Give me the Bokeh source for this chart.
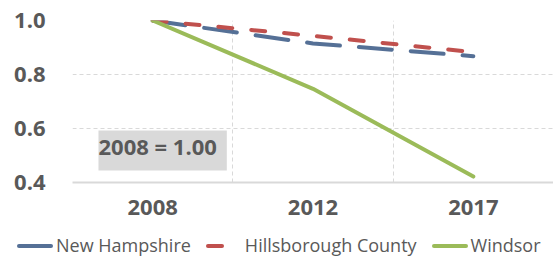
from bokeh.plotting import figure
from bokeh.layouts import column
from bokeh.models import Range1d, FixedTicker, Label, NumeralTickFormatter, Div
from bokeh.embed import file_html
from bokeh.resources import INLINE

years = ["2008", "2012", "2017"]
new_hampshire = [1.0, 0.915, 0.868]
hillsborough = [1.0, 0.943, 0.883]
windsor = [1.0, 0.747, 0.422]
y_ticks = [0.4, 0.6, 0.8, 1.0]
series_names = ["New Hampshire", "Hillsborough County", "Windsor"]

FONT = "Open Sans"
TXT = "#595959"
GRID = "#D9D9D9"
COLORS = ["#557096", "#C0504D", "#9BBB59"]
DASHES = ["33 19", "14 19", "solid"]

xs = [i + 0.5 for i in range(len(years))]
bounds = list(range(len(years) + 1))

p = figure(width=553, height=229, output_backend="svg", toolbar_location=None,
           x_range=Range1d(0, len(years)), y_range=Range1d(min(y_ticks), max(y_ticks)),
           min_border_left=72, min_border_right=0, min_border_top=20, min_border_bottom=47)
p.outline_line_color = None

for vals, c, d in zip([new_hampshire, hillsborough, windsor], COLORS, DASHES):
    p.line(xs, vals, line_color=c, line_width=4, line_dash=d, line_cap="round")

# axes
p.xaxis.ticker = FixedTicker(ticks=xs)
p.xaxis.major_label_overrides = {x: y for x, y in zip(xs, years)}
p.xaxis.axis_line_color = GRID
p.xaxis.axis_line_width = 2
p.xaxis.major_tick_line_color = None
p.xaxis.minor_tick_line_color = None
p.xaxis.major_tick_out = 0
p.xaxis.major_label_standoff = 17
p.xaxis.major_label_text_font = FONT
p.xaxis.major_label_text_font_style = "bold"
p.xaxis.major_label_text_font_size = "22px"
p.xaxis.major_label_text_color = TXT

p.yaxis.ticker = FixedTicker(ticks=y_ticks)
p.yaxis.formatter = NumeralTickFormatter(format="0.0")
p.yaxis.axis_line_color = None
p.yaxis.major_tick_line_color = None
p.yaxis.minor_tick_line_color = None
p.yaxis.major_tick_out = 0
p.yaxis.major_label_standoff = 27
p.yaxis.major_label_text_font = FONT
p.yaxis.major_label_text_font_style = "bold"
p.yaxis.major_label_text_font_size = "22px"
p.yaxis.major_label_text_color = TXT

p.xgrid.ticker = FixedTicker(ticks=bounds)
p.xgrid.grid_line_color = GRID
p.xgrid.grid_line_dash = "4 3"
p.ygrid.ticker = FixedTicker(ticks=y_ticks[1:])
p.ygrid.grid_line_color = GRID
p.ygrid.grid_line_dash = "4 3"

# annotation box with shadow
shadow = Label(x=0.162, y=0.444, text="2008 = 1.00", anchor="bottom_left", padding=(0, 10, 0, 10),
               x_offset=3, y_offset=-3,
               text_font=FONT, text_font_style="bold", text_font_size="22px", text_alpha=0,
               background_fill_color="#9A9A9A", background_fill_alpha=0.55)
box = Label(x=0.162, y=0.444, text="2008 = 1.00", anchor="bottom_left", padding=(0, 10, 0, 10),
            text_font=FONT, text_font_style="bold", text_font_size="22px", text_color=TXT,
            background_fill_color="#D9D9D9")
p.add_layout(shadow)
p.add_layout(box)

# legend strip below the chart (HTML with inline SVG swatches)
parts = []
for name, c, d in zip(series_names, COLORS, DASHES):
    dash_attr = "" if d == "solid" else f' stroke-dasharray="{d.replace(" ", ",")}"'
    parts.append(
        f'<span style="display:inline-flex;align-items:center;margin-right:15px;">'
        f'<svg width="36" height="18" style="display:block;">'
        f'<line x1="2" y1="9" x2="34" y2="9" stroke="{c}" stroke-width="4" stroke-linecap="round"{dash_attr}/>'
        f'</svg><span style="margin-left:3px;">{name}</span></span>'
    )
html = (f'<div style="display:flex;align-items:center;height:34px;padding-left:17px;'
        f'font-family:\'{FONT}\';font-size:18px;color:{TXT};white-space:nowrap;">'
        + "".join(parts) + "</div>")
leg = Div(text=html, width=553, height=34, margin=(0, 0, 0, 0))

layout = column(p, leg, spacing=0)
open("out.html", "w").write(file_html(layout, INLINE))
